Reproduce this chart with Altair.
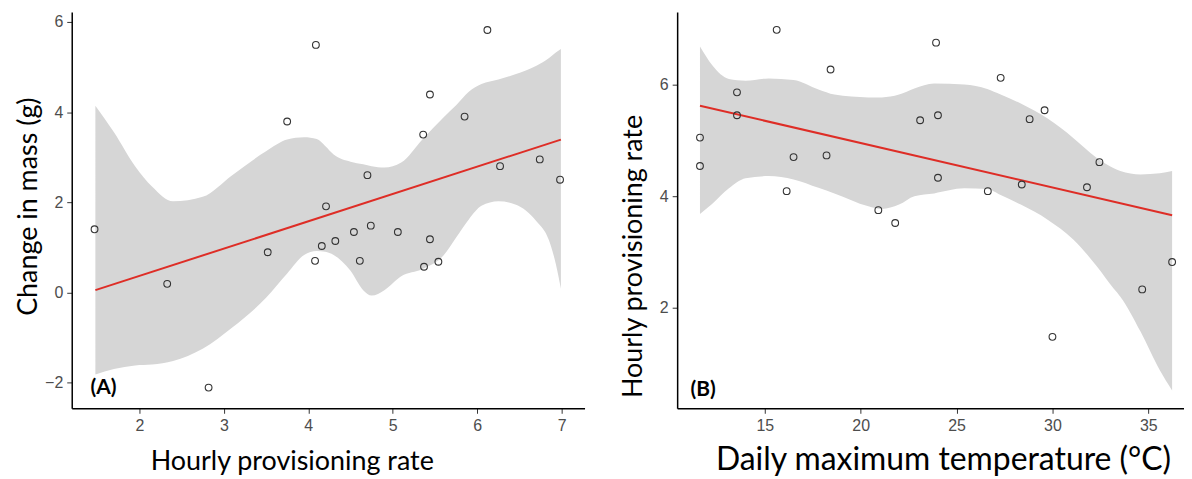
import altair as alt
import pandas as pd

# ---------------- Panel A data ----------------
a_x = [1.47, 2.33, 2.82, 3.52, 3.75, 4.09, 4.08, 4.16, 4.21, 4.32, 4.54, 4.61, 4.70,
       4.74, 5.06, 5.36, 5.37, 5.44, 5.44, 5.54, 5.85, 6.12, 6.27, 6.74, 6.98]
a_y = [1.40, 0.19, -2.11, 0.89, 3.79, 5.49, 0.70, 1.03, 1.91, 1.14, 1.34, 0.70, 2.60,
       1.48, 1.34, 3.50, 0.57, 4.39, 1.18, 0.68, 3.90, 5.82, 2.80, 2.95, 2.50]

a_band_x = [1.48, 1.7, 1.95, 2.15, 2.4, 2.75, 3.1, 3.5, 3.75, 3.95, 4.1, 4.2, 4.3, 4.5,
            4.65, 4.75, 4.9, 5.1, 5.35, 5.6, 5.75, 5.9, 6.05, 6.25, 6.45, 6.7, 6.85, 6.93, 6.99]
a_band_hi = [4.14, 3.55, 2.80, 2.35, 2.02, 2.12, 2.60, 3.13, 3.39, 3.44, 3.40, 3.25, 3.06, 2.90,
             2.84, 2.80, 2.77, 2.88, 3.39, 3.88, 4.15, 4.45, 4.62, 4.72, 4.84, 5.03, 5.20, 5.32, 5.40]
a_band_lo = [-1.82, -1.70, -1.62, -1.60, -1.52, -1.25, -0.78, -0.12, 0.42, 0.83, 0.92, 0.90, 0.83, 0.48,
             0.05, -0.07, 0.05, 0.36, 0.52, 0.82, 1.22, 1.62, 1.92, 2.02, 1.95, 1.58, 1.15, 0.63, 0.08]

a_line_x = [1.48, 6.99]
a_line_y = [0.05, 3.39]

# ---------------- Panel B data ----------------
b_x = [11.62, 11.62, 13.55, 13.55, 15.62, 16.14, 16.5, 18.22, 18.43, 20.92, 21.8, 23.1, 23.93,
       24.03, 24.03, 26.63, 27.3, 28.4, 28.81, 29.59, 30.0, 31.8, 32.45, 34.68, 36.24]
b_y = [5.05, 4.54, 5.86, 5.45, 6.98, 4.09, 4.70, 4.73, 6.27, 3.75, 3.52, 5.36, 6.75,
       5.45, 4.33, 4.09, 6.12, 4.21, 5.38, 5.54, 1.48, 4.16, 4.61, 2.33, 2.82]

b_band_x = [11.62, 12.25, 13.13, 14.0, 15.2, 16.5, 17.8, 18.63, 20.4, 21.1, 22.0, 22.8, 23.83,
            25.4, 26.6, 27.3, 28.35, 29.75, 31.1, 32.3, 33.2, 33.54, 34.6, 35.6, 36.24]
b_band_hi = [6.68, 6.35, 6.10, 6.07, 6.11, 6.08, 5.91, 5.82, 5.77, 5.77, 5.82, 5.93, 6.02,
             6.00, 5.92, 5.82, 5.66, 5.39, 5.04, 4.69, 4.50, 4.45, 4.39, 4.41, 4.45]
b_band_lo = [3.68, 3.86, 4.14, 4.32, 4.36, 4.30, 4.15, 4.05, 3.82, 3.77, 3.85, 4.00, 4.05,
             4.14, 4.13, 4.02, 3.85, 3.58, 3.22, 2.75, 2.34, 2.20, 1.57, 0.88, 0.52]

b_line_x = [11.62, 36.24]
b_line_y = [5.62, 3.66]

TITLE_FONT = "Lato"
TICK_FONT = "Liberation Sans"


def panel(px, py, bx, blo, bhi, lx, ly, xdom, ydom, xticks, yticks,
          xtitle, ytitle, tag, tagx, tagy, w, h, ytp, xtitle_x, xtitle_size, xtp, ytitle_y):
    pts = pd.DataFrame({"x": px, "y": py})
    band = pd.DataFrame({"x": bx, "lo": blo, "hi": bhi})
    line = pd.DataFrame({"x": lx, "y": ly})
    xs = alt.Scale(domain=xdom, nice=False, zero=False)
    ys = alt.Scale(domain=ydom, nice=False, zero=False)
    xax = alt.Axis(values=xticks, title=xtitle, titlePadding=xtp, format="d",
                   titleX=xtitle_x, titleFontSize=xtitle_size)
    yax = alt.Axis(values=yticks, title=ytitle, titlePadding=ytp, format="d",
                   titleY=ytitle_y)

    area = alt.Chart(band).mark_area(color="#d6d6d6", opacity=1, interpolate="monotone").encode(
        x=alt.X("x:Q", scale=xs, axis=xax),
        y=alt.Y("lo:Q", scale=ys, axis=yax),
        y2="hi:Q",
    )
    reg = alt.Chart(line).mark_line(color="#de2d26", strokeWidth=2).encode(
        x="x:Q", y="y:Q"
    )
    dots = alt.Chart(pts).mark_point(
        shape="circle", filled=False, color="#333333", size=46, strokeWidth=1.1, opacity=1
    ).encode(x="x:Q", y="y:Q")
    lab = alt.Chart(pd.DataFrame({"t": [tag]})).mark_text(
        font=TITLE_FONT, fontSize=21, fontWeight="bold", color="black",
        align="center", baseline="middle"
    ).encode(x=alt.datum(tagx), y=alt.datum(tagy), text="t:N")
    return alt.layer(area, reg, dots, lab).properties(width=w, height=h)


left = panel(a_x, a_y, a_band_x, a_band_lo, a_band_hi, a_line_x, a_line_y,
             [1.2, 7.27], [-2.57, 6.22], [2, 3, 4, 5, 6, 7], [-2, 0, 2, 4, 6],
             "Hourly provisioning rate", "Change in mass (g)", "(A)", 1.575, -2.11,
             515, 398, 2, 221, 27, 15, 195)
right = panel(b_x, b_y, b_band_x, b_band_lo, b_band_hi, b_line_x, b_line_y,
              [10.43, 36.86], [0.2, 7.3], [15, 20, 25, 30, 35], [2, 4, 6],
              "Daily maximum temperature (°C)", "Hourly provisioning rate", "(B)", 11.78, 0.52,
              509, 398, 12, 267, 32, 11, 245)

chart = alt.hconcat(left, right, spacing=35).properties(
    padding={"left": 6, "top": 3, "right": 0, "bottom": 0}
).configure_view(stroke=None).configure_axis(
    grid=False,
    domainColor="black", domainWidth=1.5,
    tickColor="#333333", tickSize=5, tickWidth=1,
    labelFont=TICK_FONT, labelFontSize=16, labelColor="#4d4d4d", labelPadding=4,
    titleFont=TITLE_FONT, titleFontSize=27, titleFontWeight="normal", titleColor="black",
)

chart.save("out.html", embed_options={"renderer": "svg", "actions": False})
